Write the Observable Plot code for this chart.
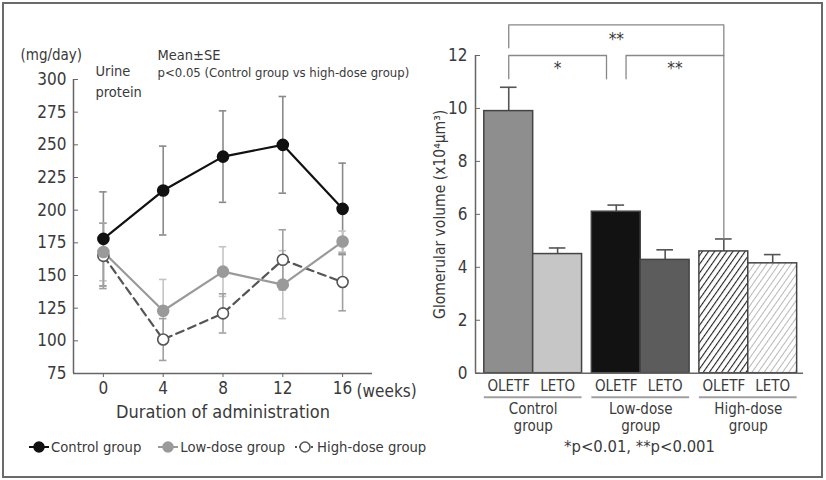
<!DOCTYPE html>
<html>
<head>
<meta charset="utf-8">
<script src="https://cdn.jsdelivr.net/npm/d3@7"></script>
<script src="https://cdn.jsdelivr.net/npm/@observablehq/plot@0.6"></script>
<style>
  body { margin: 0; background: #fff; }
  #wrap { position: relative; width: 826px; height: 480px; overflow: hidden; background: #fff;
          font-family: "Liberation Sans Narrow", "DejaVu Sans Condensed", "Open Sans", sans-serif; color: #3a3a3a; }
  #border { position: absolute; left: 2px; top: 2px; width: 817px; height: 472px; border: 2px solid #6a6a6a; }
  #left { position: absolute; left: 0; top: 0; }
  #right { position: absolute; left: 420px; top: 0; }
  #legend { position: absolute; left: 28px; top: 438px; display: flex; font-size: 14.7px; align-items: center; }
  .item { display: flex; align-items: center; white-space: nowrap; }
  .item svg { margin-right: 1px; }
</style>
</head>
<body>
<div id="wrap">
  <div id="border"></div>
  <div id="left"></div>
  <div id="right"></div>
  <div id="legend"></div>
</div>
<script>
// ---------- Left panel data: urine protein (mg/day), mean ± SE ----------
const weeks = [0, 4, 8, 12, 16];
const controlMean = [178, 215, 241, 250, 201];
const controlSE   = [36, 34, 35, 37, 35];
const lowMean     = [168, 123, 153, 143, 176];
const lowSE       = [22, 24, 19, 26, 8];
const highMean    = [165, 101, 121, 162, 145];
const highSE      = [25, 16, 15, 23, 22];
const proteinTicks = [75, 100, 125, 150, 175, 200, 225, 250, 275, 300];
const seriesNames = ["Control group", "Low-dose group", "High-dose group"];

// ---------- Right panel data: glomerular volume (x10^4 µm^3) ----------
const groups = ["Control group", "Low-dose group", "High-dose group"];
const groupLabels = ["Control\ngroup", "Low-dose\ngroup", "High-dose\ngroup"];
const strains = ["OLETF", "LETO"];
const volumeMean = [9.9, 4.5, 6.1, 4.28, 4.6, 4.15];
const volumeSE   = [0.9, 0.23, 0.25, 0.38, 0.47, 0.33];
const volumeTicks = [0, 2, 4, 6, 8, 10, 12];
const comparisons = [
  {a: 0, b: 4, label: "**", level: "outer"},
  {a: 0, b: 2, label: "*", level: "inner"},
  {a: 2, b: 4, label: "**", level: "inner"}
];
const footnote = "*p<0.01, **p<0.001";

const FONT = '"Liberation Sans Narrow", "DejaVu Sans Condensed", "Open Sans", sans-serif';
const TXT = "#3a3a3a";
const AX = "#666";

// ================= LEFT PANEL =================
const styles = {
  control: {stroke: "#111", fill: "#111", err: "#8a8a8a", dash: null, width: 2.2},
  low:     {stroke: "#9a9a9a", fill: "#9a9a9a", err: "#c4c4c4", dash: null, width: 2.2},
  high:    {stroke: "#555", fill: "#fff", err: "#a0a0a0", dash: "8,5", width: 2.2}
};
function rows(means, ses) { return weeks.map((w, i) => ({week: w, mean: means[i], se: ses[i]})); }
const series = [
  {key: "control", data: rows(controlMean, controlSE)},
  {key: "low", data: rows(lowMean, lowSE)},
  {key: "high", data: rows(highMean, highSE)}
];
const xDom = [-2, 18];
const yDom = [75, 300];
const CAP = 0.25; // half-width of error-bar caps, in weeks

const errMarks = [];
for (const s of series) {
  const st = styles[s.key];
  errMarks.push(Plot.ruleX(s.data, {x: "week", y1: d => d.mean - d.se, y2: d => d.mean + d.se, stroke: st.err, strokeWidth: 1.6}));
  errMarks.push(Plot.ruleY(s.data, {y: d => d.mean + d.se, x1: d => d.week - CAP, x2: d => d.week + CAP, stroke: st.err, strokeWidth: 1.6}));
  errMarks.push(Plot.ruleY(s.data, {y: d => d.mean - d.se, x1: d => d.week - CAP, x2: d => d.week + CAP, stroke: st.err, strokeWidth: 1.6}));
}
const lineMarks = [];
for (const s of [series[2], series[1], series[0]]) {
  const st = styles[s.key];
  lineMarks.push(Plot.line(s.data, {x: "week", y: "mean", stroke: st.stroke, strokeWidth: st.width, strokeDasharray: st.dash}));
}
for (const s of [series[2], series[1], series[0]]) {
  const st = styles[s.key];
  lineMarks.push(Plot.dot(s.data, {x: "week", y: "mean", r: 5.5, fill: st.fill, stroke: st.stroke, strokeWidth: 1.6}));
}

const left = Plot.plot({
  width: 420, height: 420,
  marginLeft: 73, marginRight: 48, marginTop: 79, marginBottom: 47,
  x: {domain: xDom},
  y: {domain: yDom},
  style: {fontFamily: FONT, color: TXT, background: "transparent", overflow: "visible"},
  marks: [
    ...errMarks,
    ...lineMarks,
    Plot.ruleX([xDom[0]], {y1: yDom[0], y2: yDom[1], stroke: AX, strokeWidth: 1.5}),
    Plot.ruleY([yDom[0]], {stroke: AX, strokeWidth: 1.5}),
    Plot.axisY({ticks: proteinTicks, tickSize: -5, tickPadding: 12, fontSize: 17, stroke: AX, fill: TXT, label: null}),
    Plot.axisX({ticks: weeks, tickSize: 4, tickPadding: 4, fontSize: 17, stroke: AX, fill: TXT, label: null}),
    Plot.text(["(weeks)"], {x: weeks[weeks.length - 1], frameAnchor: "bottom", lineAnchor: "middle", dx: 14, dy: 18, textAnchor: "start", fontSize: 17, fill: TXT}),
    Plot.text(["Duration of administration"], {frameAnchor: "bottom", lineAnchor: "middle", dy: 39, fontSize: 18, fill: TXT}),
    Plot.text(["(mg/day)"], {frameAnchor: "top-left", lineAnchor: "middle", dx: -53, dy: -24, textAnchor: "start", fontSize: 15, fill: TXT}),
    Plot.text(["Urine\nprotein"], {frameAnchor: "top-left", dx: 22, dy: 0, textAnchor: "start", lineAnchor: "middle", lineHeight: 1.45, fontSize: 14.5, fill: TXT}),
    Plot.text(["Mean±SE"], {frameAnchor: "top-left", lineAnchor: "middle", dx: 84, dy: -24, textAnchor: "start", fontSize: 14.5, fill: TXT}),
    Plot.text(["p<0.05 (Control group vs high-dose group)"], {frameAnchor: "top-left", lineAnchor: "middle", dx: 84, dy: -7, textAnchor: "start", fontSize: 13, fill: TXT})
  ]
});
document.getElementById("left").appendChild(left);

// legend
const legend = document.getElementById("legend");
const legendGaps = [16, 9, 0];
["control", "low", "high"].forEach((k, i) => {
  const st = styles[k];
  const item = document.createElement("div");
  item.className = "item";
  item.style.marginRight = legendGaps[i] + "px";
  const dash = k === "high" ? ' stroke-dasharray="2,2"' : "";
  item.innerHTML = `<svg width="22" height="14"><line x1="1" y1="7" x2="21" y2="7" stroke="${st.stroke}" stroke-width="2"${dash}/><circle cx="11" cy="7" r="5" fill="${st.fill}" stroke="${st.stroke}" stroke-width="1.5"/></svg><span>${seriesNames[i]}</span>`;
  legend.appendChild(item);
});

// ================= RIGHT PANEL =================
const GAP = 0.2;
const bars = [];
groups.forEach((g, gi) => strains.forEach((s, si) => {
  const i = gi * strains.length + si;
  const x1 = gi * (strains.length + GAP) + si;
  bars.push({group: g, gi, strain: s, x1, x2: x1 + 1, xc: x1 + 0.5, mean: volumeMean[i], se: volumeSE[i], i});
}));
const fills = ["#8e8e8e", "#c6c6c6", "#121212", "#5c5c5c", "url(#hatchDark)", "url(#hatchLight)"];
bars.forEach((b, i) => b.fill = fills[i]);
const groupSpans = groups.map((g, gi) => {
  const bs = bars.filter(b => b.gi === gi);
  return {label: groupLabels[gi], x1: bs[0].x1, x2: bs[bs.length - 1].x2, xc: (bs[0].x1 + bs[bs.length - 1].x2) / 2};
});
const rxDom = [-0.18, bars[bars.length - 1].x2 + 0.13];
const ryDom = [0, 12];

// significance bracket geometry derived from bar centres
const outerY = 13.16, outerDrop = 12.29, innerY = 12.0, innerDrop = 11.12, nudge = 0.2;
const bracketLines = [];
const bracketLabels = [];
for (const c of comparisons) {
  const A = bars[c.a], B = bars[c.b];
  if (c.level === "outer") {
    bracketLines.push([{x: A.xc, y: outerDrop}, {x: A.xc, y: outerY}, {x: B.xc, y: outerY}, {x: B.xc, y: B.mean + B.se}]);
    bracketLabels.push({x: (A.xc + B.xc) / 2, y: (outerY + innerY) / 2 + 0.03, label: c.label});
  } else {
    const xa = c.a === 0 ? A.xc : A.xc + nudge;
    const xb = c.b === 4 ? B.xc : B.xc - nudge;
    const pts = [];
    pts.push({x: xa, y: innerDrop}, {x: xa, y: innerY}, {x: xb, y: innerY});
    if (c.b !== 4) pts.push({x: xb, y: innerDrop});
    bracketLines.push(pts);
    bracketLabels.push({x: (xa + xb) / 2, y: (innerY + innerDrop) / 2 - 0.05, label: c.label});
  }
}

const right = Plot.plot({
  width: 406, height: 480,
  marginLeft: 55, marginRight: 23, marginTop: 55, marginBottom: 107.3,
  x: {domain: rxDom, axis: null},
  y: {domain: ryDom, axis: null},
  color: {type: "identity"},
  style: {fontFamily: FONT, color: TXT, background: "transparent", overflow: "visible"},
  marks: [
    Plot.ruleX(bars, {x: "xc", y1: "mean", y2: d => d.mean + d.se, stroke: "#555", strokeWidth: 1.6}),
    Plot.ruleY(bars, {y: d => d.mean + d.se, x1: d => d.xc - 0.17, x2: d => d.xc + 0.17, stroke: "#555", strokeWidth: 1.6}),
    Plot.rect(bars, {x1: "x1", x2: "x2", y1: 0, y2: "mean", fill: "fill", stroke: "#444", strokeWidth: 1.5}),
    Plot.ruleX([rxDom[0]], {y1: ryDom[0], y2: ryDom[1], stroke: AX, strokeWidth: 1.5}),
    Plot.ruleY([0], {stroke: AX, strokeWidth: 1.5}),
    Plot.axisY({ticks: volumeTicks, tickSize: -5, tickPadding: 13, fontSize: 17, stroke: AX, fill: TXT, label: null}),
    Plot.text(["Glomerular volume (x10⁴µm³)"], {frameAnchor: "left", lineAnchor: "middle", textAnchor: "middle", dx: -35, rotate: -90, fontSize: 15.5, fill: TXT}),
    Plot.text(bars, {x: "xc", text: "strain", frameAnchor: "bottom", lineAnchor: "middle", dy: 13, fontSize: 15, fill: TXT}),
    Plot.ruleY(groupSpans, {y: 0, x1: "x1", x2: "x2", dy: 24, stroke: "#a0a0a0", strokeWidth: 2}),
    Plot.text(groupSpans, {x: "xc", text: "label", frameAnchor: "bottom", lineAnchor: "middle", dy: 44, lineHeight: 1.12, fontSize: 15, fill: TXT}),
    Plot.text([footnote], {frameAnchor: "bottom", lineAnchor: "middle", dy: 74, fontSize: 16.5, fill: TXT}),
    ...bracketLines.map(pts => Plot.line(pts, {x: "x", y: "y", stroke: "#888", strokeWidth: 1.3, clip: false})),
    Plot.text(bracketLabels, {x: "x", y: "y", text: "label", fontSize: 17, fill: TXT})
  ]
});
d3.select(right).insert("defs", ":first-child").html(`
  <pattern id="hatchDark" patternUnits="userSpaceOnUse" width="5" height="5" patternTransform="rotate(35)">
    <rect width="5" height="5" fill="#fff"/><line x1="0" y1="0" x2="0" y2="5" stroke="#222" stroke-width="2.2"/>
  </pattern>
  <pattern id="hatchLight" patternUnits="userSpaceOnUse" width="5" height="5" patternTransform="rotate(35)">
    <rect width="5" height="5" fill="#fff"/><line x1="0" y1="0" x2="0" y2="5" stroke="#b0b0b0" stroke-width="1.8"/>
  </pattern>`);
document.getElementById("right").appendChild(right);
</script>
</body>
</html>
